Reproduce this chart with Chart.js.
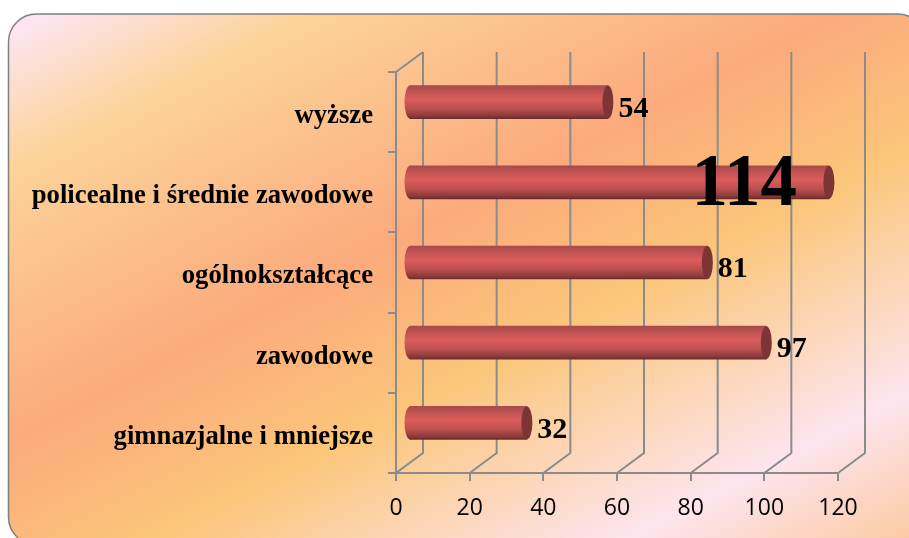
<!DOCTYPE html>
<html>
<head>
<meta charset="utf-8">
<style>
html, body { margin: 0; padding: 0; background: #fff; }
canvas { display: block; }
</style>
<script src="https://cdn.jsdelivr.net/npm/chart.js@4"></script>
</head>
<body>
<canvas id="chart" width="909" height="538"></canvas>
<script>
const categories = [
	"wyższe",
	"policealne i średnie zawodowe",
	"ogólnokształcące",
	"zawodowe",
	"gimnazjalne i mniejsze",
];
const values = [54, 114, 81, 97, 32];
const xTicks = [0, 20, 40, 60, 80, 100, 120];

const GRID = "#8b8b8b";
const DEPTH_X = 27; // back wall offset
const DEPTH_Y = 20;
const BAR_DX = 13; // bars stand in the middle of the depth
const BAR_DY = 10;
const CAP_RX = 5.5;

function barGradient(ctx, top, bottom) {
	const g = ctx.createLinearGradient(0, top, 0, bottom);
	g.addColorStop(0, "#a84a4a");
	g.addColorStop(0.12, "#b85050");
	g.addColorStop(0.42, "#dc5c5c");
	g.addColorStop(0.7, "#bd5050");
	g.addColorStop(0.92, "#8a3a3a");
	g.addColorStop(1, "#6b2c2c");
	return g;
}

const panel = {
	id: "panel",
	beforeDraw(chart) {
		const c = chart.ctx;
		const g = c.createLinearGradient(0, 0, 414, 801);
		g.addColorStop(0.04, "#fde4ef");
		g.addColorStop(0.17, "#fcd39a");
		g.addColorStop(0.44, "#fbaa7c");
		g.addColorStop(0.61, "#fbc67a");
		g.addColorStop(0.85, "#fde4ee");
		g.addColorStop(1, "#fbc9a0");
		c.save();
		c.beginPath();
		c.roundRect(8.5, 14, 917, 531, 28);
		c.fillStyle = g;
		c.fill();
		c.strokeStyle = "#808080";
		c.lineWidth = 1.5;
		c.stroke();
		c.restore();

		// walls and floor of the 3d box
		const { x, y } = chart.scales;
		const top = y.top, bottom = y.bottom;
		c.save();
		c.strokeStyle = GRID;
		c.lineWidth = 2;
		c.beginPath();
		for (const t of xTicks) {
			const px = x.getPixelForValue(t);
			c.moveTo(px, bottom);
			c.lineTo(px + DEPTH_X, bottom - DEPTH_Y);
			c.lineTo(px + DEPTH_X, top - DEPTH_Y);
		}
		const left = x.getPixelForValue(0);
		c.moveTo(left, top);
		c.lineTo(left + DEPTH_X, top - DEPTH_Y);
		c.stroke();
		c.restore();
	},
	beforeDatasetDraw(chart, args) {
		const c = chart.ctx;
		c.save();
		c.translate(BAR_DX, -BAR_DY);
		for (const bar of chart.getDatasetMeta(args.index).data) {
			const h = bar.height / 2;
			c.beginPath();
			c.ellipse(bar.base, bar.y, CAP_RX, h, 0, 0, Math.PI * 2);
			c.fillStyle = barGradient(c, bar.y - h, bar.y + h);
			c.fill();
		}
	},
	afterDatasetDraw(chart, args) {
		const c = chart.ctx;
		for (const bar of chart.getDatasetMeta(args.index).data) {
			const h = bar.height / 2;
			c.beginPath();
			c.ellipse(bar.x, bar.y, CAP_RX, h, 0, 0, Math.PI * 2);
			c.fillStyle = "#7d3434";
			c.fill();
		}
		c.restore();
	},
	afterDatasetsDraw(chart) {
		const c = chart.ctx;
		const bars = chart.getDatasetMeta(0).data;
		const biggest = values.indexOf(Math.max(...values));
		c.save();
		c.fillStyle = "#000";
		c.textBaseline = "middle";
		bars.forEach((bar, i) => {
			if (i === biggest) {
				// this one label is much larger and sits over the end of its bar
				c.font = 'bold 73px "Liberation Serif"';
				c.textAlign = "right";
				c.fillText(values[i], bar.x - 19, bar.y - 6);
			} else {
				c.font = 'bold 30px "Liberation Serif"';
				c.textAlign = "left";
				c.fillText(values[i], bar.x + BAR_DX + CAP_RX + 5, bar.y - 3);
			}
		});
		c.restore();
	},
};

new Chart(document.querySelector("#chart"), {
	type: "bar",
	data: {
		labels: categories,
		datasets: [
			{
				data: values,
				barThickness: 33,
				backgroundColor(ctx) {
					const { chart, dataIndex } = ctx;
					const mid = chart.scales.y ? chart.scales.y.getPixelForValue(dataIndex) : NaN;
					if (!Number.isFinite(mid)) return "#c05050";
					return barGradient(chart.ctx, mid - 16.5, mid + 16.5);
				},
				borderWidth: 0,
			},
		],
	},
	options: {
		indexAxis: "y",
		responsive: false,
		animation: false,
		layout: { padding: { top: 72, right: 71, bottom: 0, left: 0 } },
		plugins: { legend: { display: false }, tooltip: { enabled: false } },
		scales: {
			x: {
				type: "linear",
				min: 0,
				max: 120,
				afterBuildTicks(axis) {
					axis.ticks = xTicks.map((value) => ({ value }));
				},
				afterFit(axis) {
					axis.height = 65;
				},
				grid: { drawOnChartArea: false, color: GRID, lineWidth: 2, tickLength: 8 },
				border: { color: GRID, width: 2 },
				ticks: {
					color: "#000",
					maxRotation: 0,
					padding: 14,
					font: { family: '"Open Sans"', size: 23 },
				},
			},
			y: {
				type: "category",
				afterFit(axis) {
					axis.width = 396;
				},
				grid: { drawOnChartArea: false, color: GRID, lineWidth: 2, tickLength: 8 },
				border: { color: GRID, width: 2 },
				ticks: {
					color: "#000",
					padding: 15,
					labelOffset: 4,
					font: { family: '"Liberation Serif"', size: 26.7, weight: "bold" },
				},
			},
		},
	},
	plugins: [panel],
});
</script>
</body>
</html>
